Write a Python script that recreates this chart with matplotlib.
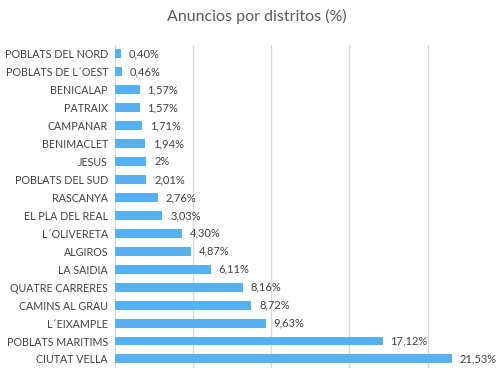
import matplotlib
matplotlib.use("Agg")
import matplotlib.pyplot as plt

# Datos: distritos y porcentaje de anuncios
distritos = [
    "POBLATS DEL NORD", "POBLATS DE L´OEST", "BENICALAP", "PATRAIX",
    "CAMPANAR", "BENIMACLET", "JESUS", "POBLATS DEL SUD", "RASCANYA",
    "EL PLA DEL REAL", "L´OLIVERETA", "ALGIROS", "LA SAIDIA",
    "QUATRE CARRERES", "CAMINS AL GRAU", "L´EIXAMPLE",
    "POBLATS MARITIMS", "CIUTAT VELLA",
]
porcentajes = [0.40, 0.46, 1.57, 1.57, 1.71, 1.94, 2.00, 2.01, 2.76,
               3.03, 4.30, 4.87, 6.11, 8.16, 8.72, 9.63, 17.12, 21.53]
etiquetas = ["0,40%", "0,46%", "1,57%", "1,57%", "1,71%", "1,94%", "2%",
             "2,01%", "2,76%", "3,03%", "4,30%", "4,87%", "6,11%",
             "8,16%", "8,72%", "9,63%", "17,12%", "21,53%"]

plt.rcParams['font.family'] = ['Lato', 'DejaVu Sans']

fig = plt.figure(figsize=(4.99, 3.72), dpi=100)
ax = fig.add_axes([0.2305, 0.011, 0.78, 0.868])

y = list(range(len(distritos)))
ax.barh(y, porcentajes, height=0.5, color="#56B0F2", zorder=3)

for yi, v, txt in zip(y, porcentajes, etiquetas):
    ax.text(v + 0.5, yi, txt, va="center", ha="left",
            fontsize=8, color="#404040")

ax.set_yticks(y)
ax.set_yticklabels(distritos, fontsize=7.7, color="#404040")
ax.set_ylim(len(distritos) - 0.5, -0.5)
ax.set_xlim(0, 24.9)
ax.set_xticks([0, 5, 10, 15, 20])
ax.tick_params(axis="x", length=0, labelbottom=False)
ax.tick_params(axis="y", length=0, pad=5)
ax.grid(axis="x", color="#D9D9D9", linewidth=1, zorder=0)
for s in ax.spines.values():
    s.set_visible(False)

fig.text(0.515, 0.955, "Anuncios por distritos (%)", ha="center", va="center",
         fontsize=11.5, color="#595959")

fig.savefig("out.png", dpi=100)
